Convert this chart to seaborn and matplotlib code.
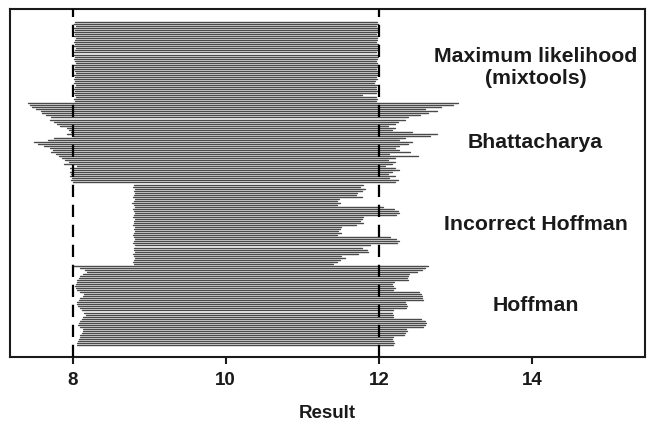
import numpy as np
import pandas as pd
import matplotlib
matplotlib.use("Agg")
import matplotlib.pyplot as plt
import seaborn as sns

# Reference-interval estimates, one row per simulated sample (top to bottom)
methods = ["Maximum likelihood\n(mixtools)", "Bhattacharya", "Incorrect Hoffman", "Hoffman"]

ml_low = [8.03, 8.02, 8.04, 8.02, 8.03, 8.01, 8.03, 8.02, 8.04, 8.03,
          8.02, 8.03, 8.02, 8.04, 8.03, 8.02, 8.01, 8.03, 8.02, 8.03,
          8.04, 8.02, 8.03, 8.02, 8.03, 8.04, 8.02, 8.03, 8.02, 8.03,
          8.02, 8.04, 8.03, 8.02, 8.03, 8.02, 8.03, 8.04, 8.02, 8.03]
ml_high = [11.98, 11.99, 11.97, 11.98, 11.99, 11.98, 11.97, 11.99, 11.98, 11.98,
           11.97, 11.99, 11.98, 11.98, 11.99, 11.97, 11.98, 11.99, 11.98, 11.97,
           11.98, 11.99, 11.98, 11.97, 11.98, 11.98, 11.99, 11.97, 11.98, 11.95,
           11.94, 11.98, 11.97, 11.96, 11.98, 11.97, 11.78, 11.96, 11.98, 11.97]

bh_low = [7.41, 7.44, 7.47, 7.52, 7.58, 7.60, 7.65, 7.72, 7.70, 7.76,
          7.80, 7.83, 7.92, 7.95, 7.98, 7.93, 8.00, 7.75, 7.68, 7.50,
          7.55, 7.62, 7.70, 7.74, 7.72, 7.78, 7.82, 7.86, 7.90, 7.95,
          7.88, 8.05, 7.97, 7.99, 7.96, 7.98, 7.97, 7.99, 7.98, 8.00]
bh_high = [13.03, 12.97, 12.82, 12.60, 12.76, 12.64, 12.54, 12.38, 12.34, 12.25,
           12.21, 12.12, 12.21, 12.17, 12.43, 12.76, 12.67, 12.34, 12.27, 12.43,
           12.38, 12.27, 12.21, 12.27, 12.41, 12.14, 12.51, 12.21, 12.12, 12.21,
           12.17, 12.08, 12.21, 12.27, 12.17, 12.12, 12.21, 12.14, 12.25, 12.21]

ih_low = [8.80, 8.79, 8.81, 8.80, 8.82, 8.80, 8.79, 8.81, 8.80, 8.78,
          8.80, 8.81, 8.79, 8.80, 8.82, 8.80, 8.79, 8.81, 8.80, 8.80,
          8.79, 8.81, 8.80, 8.82, 8.80, 8.79, 8.80, 8.81, 8.80, 8.79,
          8.81, 8.80, 8.80, 8.82, 8.79, 8.80, 8.81, 8.80, 8.79, 8.80]
ih_high = [11.80, 11.75, 11.82, 11.78, 11.72, 11.70, 11.78, 11.48, 11.46, 11.49,
           11.45, 12.05, 12.20, 12.25, 12.27, 12.22, 11.80, 11.78, 11.76, 11.79,
           11.70, 11.50, 11.49, 11.47, 11.50, 11.46, 12.15, 12.23, 12.26, 12.24,
           11.88, 11.78, 11.84, 11.86, 11.73, 11.50, 11.56, 11.49, 11.45, 11.40]

hf_low = [8.00, 8.10, 8.16, 8.18, 8.14, 8.10, 8.08, 8.06, 8.05, 8.04,
          8.03, 8.04, 8.06, 8.10, 8.15, 8.13, 8.10, 8.08, 8.06, 8.05,
          8.07, 8.09, 8.12, 8.15, 8.17, 8.14, 8.12, 8.10, 8.08, 8.07,
          8.10, 8.13, 8.14, 8.12, 8.10, 8.09, 8.08, 8.07, 8.06, 8.06]
hf_high = [12.64, 12.60, 12.56, 12.50, 12.40, 12.38, 12.37, 12.38, 12.20, 12.17,
           12.18, 12.21, 12.19, 12.52, 12.55, 12.57, 12.56, 12.58, 12.34, 12.36,
           12.37, 12.35, 12.18, 12.17, 12.19, 12.18, 12.55, 12.60, 12.62, 12.61,
           12.58, 12.36, 12.37, 12.34, 12.33, 12.19, 12.17, 12.18, 12.20, 12.19]

true_limits = [8, 12]
x_ticks = [8, 10, 12, 14]

# Build long-form table: two points (low, high) per row
lows = [ml_low, bh_low, ih_low, hf_low]
highs = [ml_high, bh_high, ih_high, hf_high]
records = []
row = 0
for m, lo, hi in zip(methods, lows, highs):
    for a, b in zip(lo, hi):
        records.append({"method": m, "row": row, "value": a})
        records.append({"method": m, "row": row, "value": b})
        row += 1
df = pd.DataFrame(records)
n_rows = row

sns.set_style("white")
plt.rcParams["font.family"] = ["Liberation Sans", "DejaVu Sans"]

fig = plt.figure(figsize=(6.5, 4.28), dpi=100)
ax = fig.add_axes([10 / 650, 1 - 357 / 428, 635 / 650, 348 / 428])

sns.lineplot(data=df, x="value", y="row", units="row", estimator=None,
             sort=False, color="#4a4a4a", lw=1.0, ax=ax, legend=False)

for v in true_limits:
    ax.axvline(v, color="black", lw=1.6, ls=(0, (5.5, 3.5)), zorder=3)

# method labels at group centres
group_size = len(ml_low)
for i, m in enumerate(methods):
    yc = i * group_size + (group_size - 1) / 2
    if i == 0:
        yc += 3
    ax.text(14.05, yc, m, ha="center", va="center", fontsize=15.3,
            fontweight="bold", color="#1a1a1a", linespacing=1.2)

ax.set_xlim(7.18, 15.48)
ax.set_ylim(n_rows - 1 + 5.9, -6.4)
ax.set_xticks(x_ticks)
ax.set_xticklabels([str(t) for t in x_ticks], fontsize=13.5, fontweight="bold",
                   color="#1a1a1a")
ax.set_yticks([])
ax.set_ylabel("")
ax.set_xlabel("Result", fontsize=13.5, fontweight="bold", color="#1a1a1a",
              labelpad=11)
ax.tick_params(axis="x", direction="out", length=5, width=1.5, pad=6,
               bottom=True, color="#1a1a1a")
for s in ax.spines.values():
    s.set_linewidth(1.5)
    s.set_color("#1a1a1a")

fig.savefig("out.png", dpi=100)
